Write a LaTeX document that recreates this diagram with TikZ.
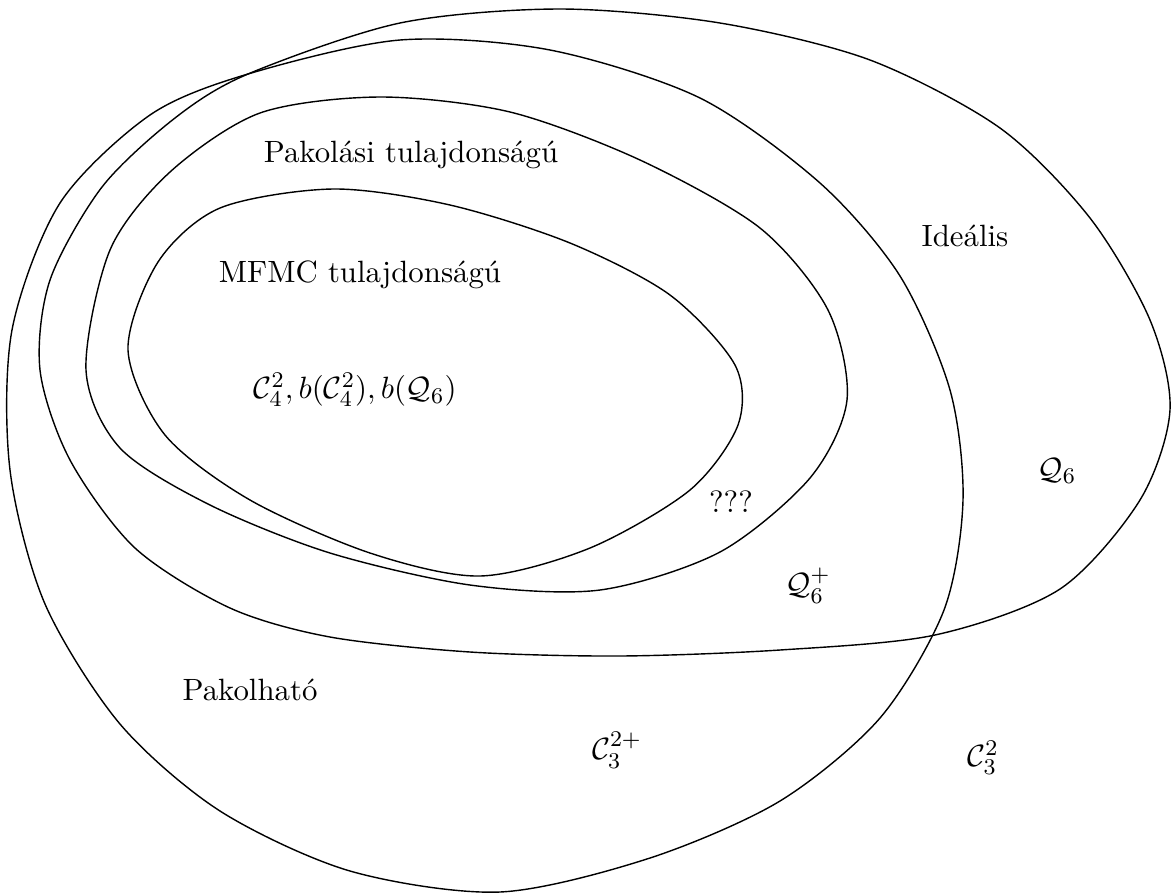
\documentclass[11pt,tikz,border=0pt]{standalone}
\usepackage{amssymb}
\tikzset{halmaz/.style={line width=0.5pt}}
\begin{document}
\begin{tikzpicture}[x=0.0125cm, y=-0.0125cm]
  \useasboundingbox (0,0) rectangle (1172,895);
  % Pakolhato
  \draw[halmaz] plot[smooth cycle] coordinates {(248,74) (400,40) (550,50) (700,98) (820,183) (900,276) (950,390) (963,500) (944,610) (880,718) (780,801) (650,858) (500,892) (350,871) (220,811) (120,724) (45,604) (10,470) (12,330) (60,203) (150,115)};
  % Idealis
  \draw[halmaz] plot[smooth cycle] coordinates {(248,74) (400,23) (560,9) (720,23) (870,60) (1000,128) (1090,218) (1150,320) (1170,410) (1140,500) (1060,589) (935,635) (780,650) (620,656) (470,652) (330,637) (230,608) (135,548) (70,460) (40,370) (50,280) (102,187) (175,118)};
  % Pakolasi tulajdonsagu
  \draw[halmaz] plot[smooth cycle] coordinates {(86,370) (110,250) (170,172) (260,113) (380,97) (510,112) (640,160) (760,228) (828,310) (847,400) (810,478) (720,552) (600,590) (470,585) (330,553) (210,505) (120,448)};
  % MFMC tulajdonsagu
  \draw[halmaz] plot[smooth cycle] coordinates {(128,350) (158,262) (220,208) (333,189) (450,205) (570,243) (670,295) (735,365) (738,425) (690,490) (590,548) (480,576) (370,553) (250,500) (165,435)};
  \node (pakolasi) at (411,155) {Pakolási tulajdonságú};
  \node (mfmc) at (360,275) {MFMC tulajdonságú};
  \node (cnegy) at (355,390) {$\mathcal{C}_4^2, b(\mathcal{C}_4^2), b(\mathcal{Q}_6)$};
  \node (idealis) at (965,236) {Ideális};
  \node (qhat) at (1057,471) {$\mathcal{Q}_6$};
  \node (kerdes) at (731,502) {???};
  \node (qplusz) at (808,586) {$\mathcal{Q}_6^+$};
  \node (pakolhato) at (250,690) {Pakolható};
  \node (cplusz) at (617,750) {$\mathcal{C}_3^{2+}$};
  \node (charom) at (983,758) {$\mathcal{C}_3^2$};
\end{tikzpicture}
\end{document}
